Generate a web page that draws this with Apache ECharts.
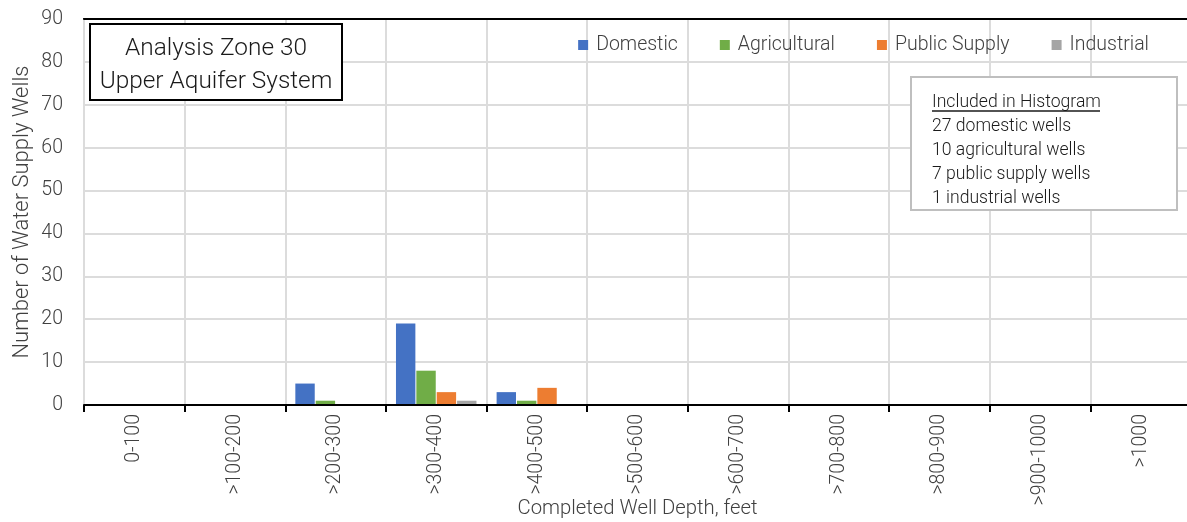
<!DOCTYPE html>
<html>
<head>
<meta charset="utf-8">
<script src="https://cdn.jsdelivr.net/npm/echarts@6/dist/echarts.min.js"></script>
<style>
  html, body { margin: 0; padding: 0; background: #fff; }
  #chart { width: 1187px; height: 522px; }
</style>
</head>
<body>
<div id="chart"></div>
<script>
// Depth bins (feet)
const depthBins = ['0-100', '>100-200', '>200-300', '>300-400', '>400-500', '>500-600',
                   '>600-700', '>700-800', '>800-900', '>900-1000', '>1000'];

// Well counts per depth bin, by use type
const domestic     = [0, 0, 5, 19, 3, 0, 0, 0, 0, 0, 0];
const agricultural = [0, 0, 1, 8, 1, 0, 0, 0, 0, 0, 0];
const publicSupply = [0, 0, 0, 3, 4, 0, 0, 0, 0, 0, 0];
const industrial   = [0, 0, 0, 1, 0, 0, 0, 0, 0, 0, 0];

const yTicks = { min: 0, max: 90, interval: 10 };

const FONT = 'Roboto, "Liberation Sans", sans-serif';
const W = 300;
const TXT = '#404040';

const total = arr => arr.reduce((a, b) => a + b, 0);
const summaryLines = [
  total(domestic) + ' domestic wells',
  total(agricultural) + ' agricultural wells',
  total(publicSupply) + ' public supply wells',
  total(industrial) + ' industrial wells'
];

const chart = echarts.init(document.getElementById('chart'), null, { renderer: 'canvas' });

const seriesDefs = [
  { name: 'Domestic', data: domestic, color: '#4472C4' },
  { name: 'Agricultural', data: agricultural, color: '#70AD47' },
  { name: 'Public Supply', data: publicSupply, color: '#ED7D31' },
  { name: 'Industrial', data: industrial, color: '#A5A5A5' }
];

chart.setOption({
  animation: false,
  textStyle: { fontFamily: FONT, fontWeight: W },
  grid: {
    left: 84, right: -4, top: 19, bottom: 117,
    containLabel: false,
    outerBoundsMode: 'none'
  },
  legend: {
    right: 33,
    top: 30,
    itemWidth: 10,
    itemHeight: 10,
    itemGap: 42,
    icon: 'rect',
    textStyle: { fontFamily: FONT, fontWeight: W, fontSize: 19.5, color: TXT, padding: [0, 0, 0, 3] },
    data: seriesDefs.map(s => s.name)
  },
  xAxis: [{
    type: 'category',
    data: depthBins,
    boundaryGap: true,
    name: 'Completed Well Depth, feet',
    nameLocation: 'middle',
    nameGap: 94,
    nameMoveOverlap: false,
    nameTextStyle: { fontFamily: FONT, fontWeight: W, fontSize: 20.3, color: TXT },
    axisLine: { show: true, lineStyle: { color: '#000', width: 2 } },
    axisTick: { show: true, alignWithLabel: false, length: 7, lineStyle: { color: '#000', width: 2 } },
    axisLabel: { rotate: 90, margin: 9, fontFamily: FONT, fontWeight: W, fontSize: 19.5, color: TXT, interval: 0 },
    splitLine: { show: true, interval: 0, lineStyle: { color: '#dcdcdc', width: 2 } },
    z: 3
  }, {
    type: 'category',
    data: depthBins,
    position: 'top',
    axisLine: { show: true, lineStyle: { color: '#000', width: 2 } },
    axisTick: { show: false },
    axisLabel: { show: false },
    splitLine: { show: false },
    z: 3
  }],
  yAxis: {
    type: 'value',
    min: yTicks.min,
    max: yTicks.max,
    interval: yTicks.interval,
    name: 'Number of Water Supply Wells',
    nameLocation: 'middle',
    nameGap: 51,
    nameRotate: 90,
    nameMoveOverlap: false,
    nameTextStyle: { fontFamily: FONT, fontWeight: W, fontSize: 22, color: TXT },
    axisLine: { show: true, lineStyle: { color: '#000', width: 2 } },
    axisTick: { show: false },
    axisLabel: { margin: 21, fontFamily: FONT, fontWeight: W, fontSize: 19.5, color: TXT },
    splitLine: { show: true, lineStyle: { color: '#dcdcdc', width: 2 } }
  },
  series: seriesDefs.map(s => ({
    type: 'bar',
    name: s.name,
    data: s.data,
    xAxisIndex: 0,
    barGap: '5%',
    barCategoryGap: '20%',
    itemStyle: { color: s.color },
    z: 2
  })),
  graphic: [
    // Title box
    {
      type: 'group',
      x: 90,
      y: 24,
      z: 100,
      children: [
        {
          type: 'rect',
          z: 100,
          shape: { x: 0, y: 0, width: 252, height: 76 },
          style: { fill: '#fff', stroke: '#000', lineWidth: 2 }
        },
        {
          type: 'text',
          z: 101,
          x: 126, y: 41.5,
          style: {
            text: 'Analysis Zone 30\nUpper Aquifer System',
            fontFamily: FONT, fontWeight: W, fontSize: 24.4, lineHeight: 33,
            fill: '#1a1a1a', align: 'center', verticalAlign: 'middle'
          }
        }
      ]
    },
    // Summary box
    {
      type: 'group',
      x: 911,
      y: 77,
      z: 100,
      children: [
        {
          type: 'rect',
          z: 100,
          shape: { x: 0, y: 0, width: 266, height: 133 },
          style: { fill: '#fff', stroke: '#bfbfbf', lineWidth: 2 }
        },
        {
          type: 'text',
          z: 101,
          x: 21, y: 26,
          style: {
            text: 'Included in Histogram',
            fontFamily: FONT, fontWeight: W, fontSize: 17.6, fill: '#1a1a1a',
            align: 'left', verticalAlign: 'middle'
          }
        },
        {
          type: 'line',
          z: 101,
          shape: { x1: 21, y1: 34, x2: 189, y2: 34 },
          style: { stroke: '#1a1a1a', lineWidth: 1.5 }
        },
        {
          type: 'text',
          z: 101,
          x: 21, y: 38,
          style: {
            text: summaryLines.join('\n'),
            fontFamily: FONT, fontWeight: W, fontSize: 17.6, lineHeight: 24, fill: '#1a1a1a',
            align: 'left', verticalAlign: 'top'
          }
        }
      ]
    }
  ]
});
</script>
</body>
</html>
